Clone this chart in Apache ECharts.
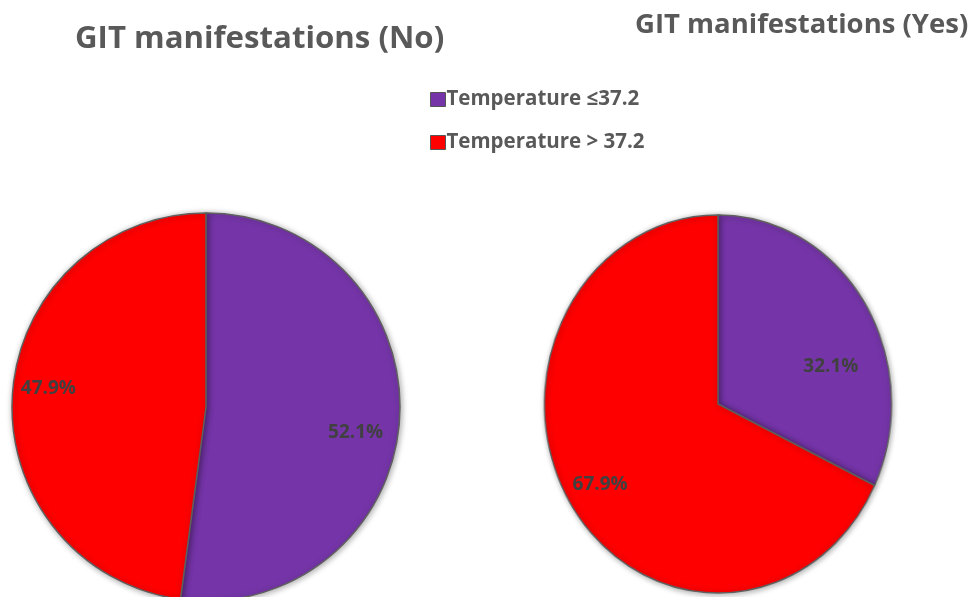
<!DOCTYPE html>
<html>
<head>
<meta charset="utf-8">
<script src="https://cdn.jsdelivr.net/npm/echarts@6/dist/echarts.min.js"></script>
<style>
html,body{margin:0;padding:0;background:#fff}
#wrap{position:relative;width:973px;height:597px;overflow:hidden}
#c{position:absolute;left:0;top:0;width:973px;height:597px;z-index:2}
#p2{position:absolute;left:0;top:0;width:973px;height:597px;z-index:1;transform:scaleX(0.918);transform-origin:718px 404px}
</style>
</head>
<body>
<div id="wrap"><div id="p2"></div><div id="c"></div></div>
<script>
const categories = ['Temperature \u226437.2', 'Temperature > 37.2'];
const noValues = [52.1, 47.9];
const yesValues = [32.1, 67.9];
const titles = ['GIT manifestations (No)', 'GIT manifestations (Yes)'];

const colors = ['#7535A8', '#FE0000'];
const FONT = '"Open Sans", sans-serif';

const chart = echarts.init(document.getElementById('c'), null, {renderer: 'canvas'});
const chart2 = echarts.init(document.getElementById('p2'), null, {renderer: 'canvas'});

function mainPie(values, center, r) {
  return {
    type: 'pie', center: center, radius: [0, r], startAngle: 90, clockwise: true,
    silent: true, label: {show: false}, labelLine: {show: false},
    itemStyle: {borderColor: '#5f5f5f', borderWidth: 1.5, shadowBlur: 6, shadowColor: 'rgba(0,0,0,0.35)', shadowOffsetX: 1, shadowOffsetY: 1},
    data: categories.map((n, i) => ({name: n, value: values[i], itemStyle: {color: colors[i]}}))
  };
}
function labelPie(values, center, r, offsets) {
  return {
    type: 'pie', center: center, radius: [0, r], startAngle: 90, clockwise: true,
    silent: true, z: 5, labelLine: {show: false}, legendHoverLink: false,
    itemStyle: {color: 'rgba(0,0,0,0)', borderWidth: 0},
    label: {show: true, position: 'inside', fontFamily: FONT, fontWeight: 'bold', fontSize: 19, color: '#404040',
      formatter: p => p.value.toFixed(1) + '%'},
    data: categories.map((n, i) => ({name: n, value: values[i], label: {offset: offsets[i]}}))
  };
}

chart.setOption({
  animation: false,
  title: [
    {text: titles[0], left: 70, top: 19, textStyle: {fontFamily: FONT, fontWeight: 'bold', fontSize: 31.2, color: '#595959'}},
    {text: titles[1], left: 630, top: 6, textStyle: {fontFamily: FONT, fontWeight: 'bold', fontSize: 27.5, color: '#595959'}}
  ],
  legend: {
    orient: 'vertical', left: 425, top: 84, itemWidth: 15, itemHeight: 14, itemGap: 22, icon: 'rect',
    data: categories,
    itemStyle: {borderColor: '#555', borderWidth: 1},
    textStyle: {fontFamily: FONT, fontWeight: 'bold', fontSize: 20.5, color: '#595959', padding: [0, 0, 0, -4]}
  },
  series: [
    mainPie(noValues, [206, 407], 194),
    labelPie(noValues, [206, 407], 306, [[-6, 15], [-2, -8]]),
    labelPie(yesValues, [717, 405], 282, [[-8, 38], [5, 3]])
  ]
});

chart2.setOption({
  animation: false,
  series: [mainPie(yesValues, [718, 404], 189)]
});
</script>
</body>
</html>
